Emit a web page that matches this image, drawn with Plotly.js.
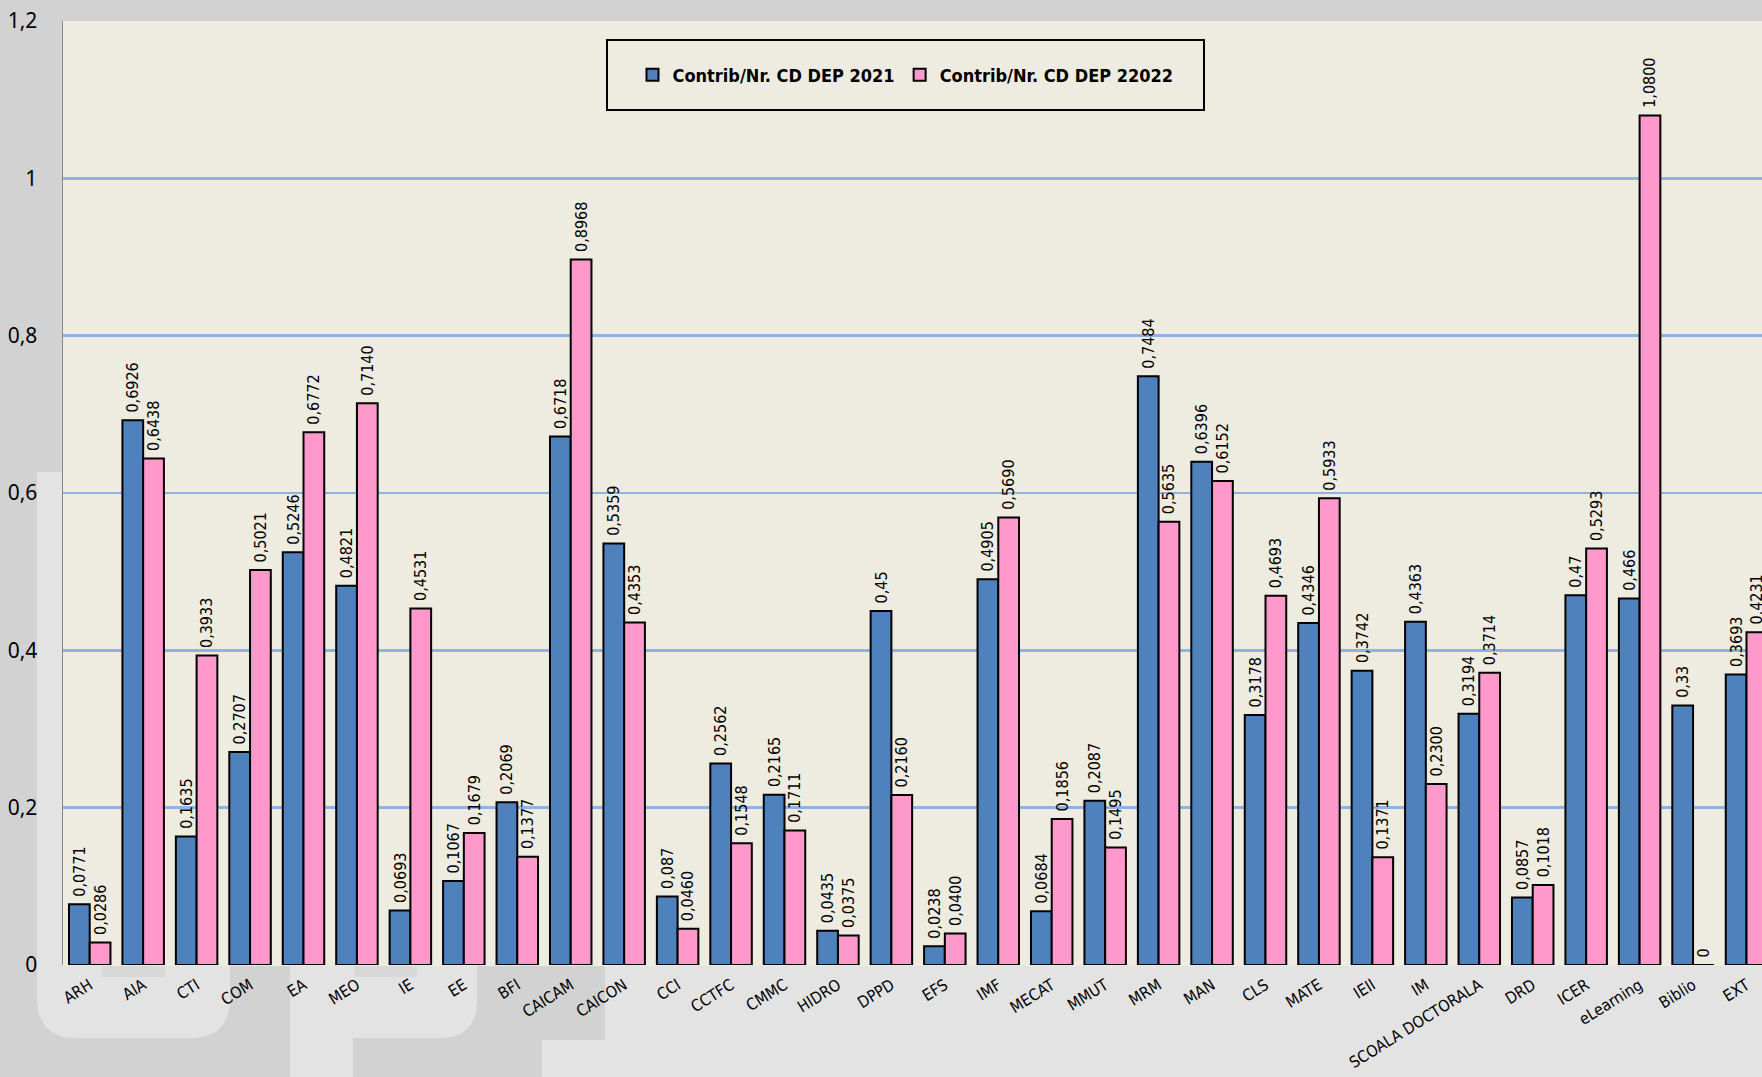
<!DOCTYPE html>
<html>
<head>
<meta charset="utf-8">
<script src="https://cdn.plot.ly/plotly-3.0.1.min.js"></script>
<style>
  html, body { margin: 0; padding: 0; overflow: hidden; background: #d2d2d2; }
  #chart { width: 1762px; height: 1077px; }
</style>
</head>
<body>
<div id="chart"></div>
<script>
// ---- data ----
const categories = ["ARH","AIA","CTI","COM","EA","MEO","IE","EE","BFI","CAICAM","CAICON","CCI","CCTFC","CMMC","HIDRO","DPPD","EFS","IMF","MECAT","MMUT","MRM","MAN","CLS","MATE","IEII","IM","SCOALA DOCTORALA","DRD","ICER","eLearning","Biblio","EXT"];
const values2021 = [0.0771,0.6926,0.1635,0.2707,0.5246,0.4821,0.0693,0.1067,0.2069,0.6718,0.5359,0.087,0.2562,0.2165,0.0435,0.45,0.0238,0.4905,0.0684,0.2087,0.7484,0.6396,0.3178,0.4346,0.3742,0.4363,0.3194,0.0857,0.47,0.466,0.33,0.3693];
const values2022 = [0.0286,0.6438,0.3933,0.5021,0.6772,0.7140,0.4531,0.1679,0.1377,0.8968,0.4353,0.0460,0.1548,0.1711,0.0375,0.2160,0.0400,0.5690,0.1856,0.1495,0.5635,0.6152,0.4693,0.5933,0.1371,0.2300,0.3714,0.1018,0.5293,1.0800,0,0.4231];
const seriesNames = ["Contrib/Nr. CD DEP 2021", "Contrib/Nr. CD DEP 22022"];

const NB = '\u00a0';
const labels2021 = values2021.map(v => NB + String(v).replace('.', ','));
const labels2022 = values2022.map(v => NB + (v === 0 ? "0" : v.toFixed(4).replace('.', ',')));

// ---- layout helpers (pixel -> paper) ----
const W = 1762, H = 1077, ML = 63, MR = 0, MT = 21, MB = 112;
const PW = W - ML - MR, PH = H - MT - MB;
const px = x => (x - ML) / PW;
const py = y => (H - MB - y) / PH;
function path(pts) {
  return pts.map(p => {
    if (p[0] === 'Q') return 'Q' + px(p[1]) + ',' + py(p[2]) + ' ' + px(p[3]) + ',' + py(p[4]);
    if (p[0] === 'Z') return 'Z';
    return p[0] + px(p[1]) + ',' + py(p[2]);
  }).join(' ');
}
const LIGHT = '#e3e3e3', NOTCH = '#d8d8d8';
const NARROW = '"Liberation Sans Narrow", "DejaVu Sans Condensed", "Arial Narrow", sans-serif';

const shapes = [
  // watermark U
  {type:'path', xref:'paper', yref:'paper', layer:'below', fillcolor:LIGHT, line:{width:0},
   path: path([['M',37,472],['L',63,472],['L',63,965],['L',230,965],['L',230,998],['Q',230,1038,190,1038],['L',77,1038],['Q',37,1038,37,998],['Z']])},
  {type:'rect', xref:'paper', yref:'paper', layer:'below', fillcolor:NOTCH, line:{width:0},
   x0:px(102), x1:px(165), y0:py(977), y1:py(965)},
  // watermark P
  {type:'path', xref:'paper', yref:'paper', layer:'below', fillcolor:LIGHT, line:{width:0},
   path: path([['M',290,965],['L',477,965],['L',477,1000],['Q',477,1038,439,1038],['L',353,1038],['L',353,1080],['L',290,1080],['Z']])},
  {type:'rect', xref:'paper', yref:'paper', layer:'below', fillcolor:NOTCH, line:{width:0},
   x0:px(354), x1:px(417), y0:py(977), y1:py(965)},
  // watermark T region
  {type:'path', xref:'paper', yref:'paper', layer:'below', fillcolor:LIGHT, line:{width:0},
   path: path([['M',605,965],['L',1800,965],['L',1800,1080],['L',542,1080],['L',542,1040],['L',605,1040],['Z']])},
  // legend box
  {type:'rect', xref:'paper', yref:'paper', layer:'below', fillcolor:'#eeece1', line:{color:'#000', width:2},
   x0:px(607), x1:px(1204), y0:py(110), y1:py(40)}
];

const traces = [
  {type:'bar', name:seriesNames[0], x:categories, y:values2021, text:labels2021,
   textposition:'outside', textangle:-90, constraintext:'none', cliponaxis:false,
   textfont:{family:NARROW, size:16, color:'#000'},
   marker:{color:'#4f81bd', line:{color:'#000', width:2}}, hoverinfo:'x+y'},
  {type:'bar', name:seriesNames[1], x:categories, y:values2022, text:labels2022,
   textposition:'outside', textangle:-90, constraintext:'none', cliponaxis:false,
   textfont:{family:NARROW, size:16, color:'#000'},
   marker:{color:'#ff99cc', line:{color:'#000', width:2}}, hoverinfo:'x+y'}
];

const layout = {
  width: W, height: H,
  margin: {l: ML, r: MR, t: MT, b: MB, pad: 0},
  paper_bgcolor: '#d2d2d2',
  plot_bgcolor: '#eeece1',
  separators: ',.',
  barmode: 'group',
  bargap: 0.224,
  bargroupgap: 0,
  showlegend: true,
  legend: {
    orientation: 'h', xref:'paper', yref:'paper',
    x: px(905.5), xanchor: 'center', y: py(75), yanchor: 'middle',
    bgcolor: 'rgba(0,0,0,0)', borderwidth: 0,
    font: {family: NARROW, size: 18, color: '#000', weight: 'bold'},
    itemwidth: 30
  },
  xaxis: {
    type: 'category',
    range: [-0.5, 31.29],
    tickangle: -32,
    tickfont: {family: NARROW, size: 16, color: '#000'},
    ticks: '', showgrid: false, showline: false, zeroline: false,
    ticklabelstandoff: 7,
    fixedrange: true
  },
  yaxis: {
    range: [0, 1.2],
    dtick: 0.2, tick0: 0,
    tickfont: {family: '"Noto Sans", "Open Sans", sans-serif', size: 21, color: '#000'},
    ticks: '', ticklabelstandoff: 20,
    showgrid: true, gridcolor: '#8db3e2', gridwidth: 2.5,
    zeroline: true, zerolinecolor: '#eeece1', zerolinewidth: 1,
    showline: true, linecolor: '#8a8a8a', linewidth: 1.5,
    fixedrange: true
  },
  shapes: shapes
};

Plotly.newPlot('chart', traces, layout, {displayModeBar: false, staticPlot: true});
</script>
</body>
</html>
